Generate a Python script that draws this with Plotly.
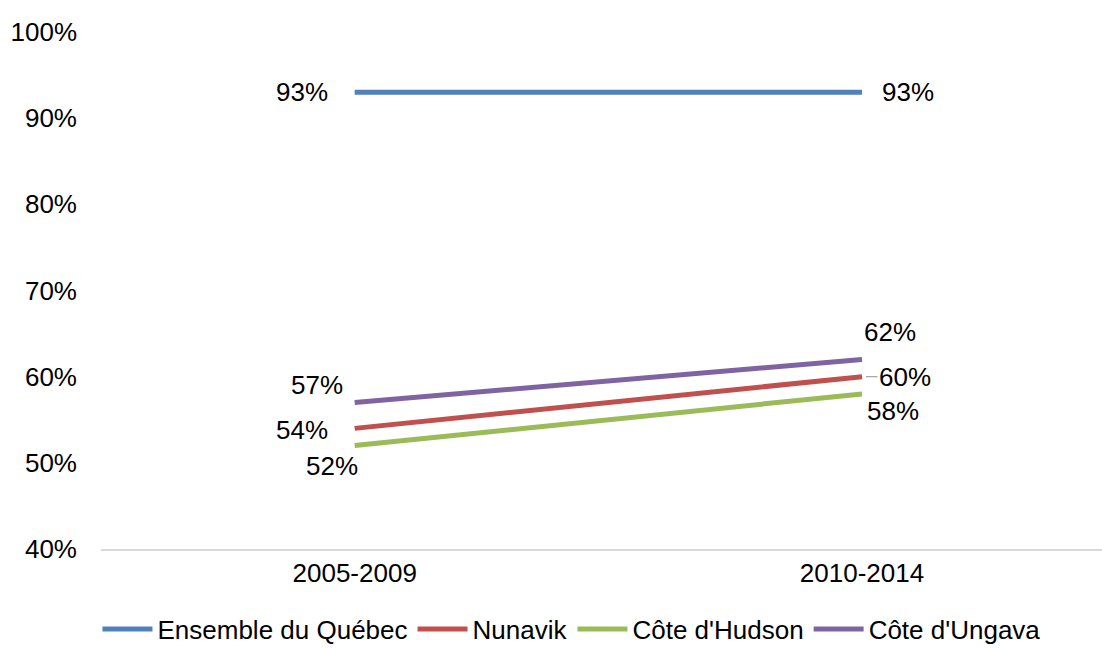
import plotly.graph_objects as go

categories = ["2005-2009", "2010-2014"]
series_names = ["Ensemble du Québec", "Nunavik", "Côte d'Hudson", "Côte d'Ungava"]
quebec = [93, 93]
nunavik = [54, 60]
hudson = [52, 58]
ungava = [57, 62]
colors = ["#4F81BD", "#C0504D", "#9BBB59", "#8064A2"]
y_ticks = [40, 50, 60, 70, 80, 90, 100]

all_values = [quebec, nunavik, hudson, ungava]

FS = 26
font = dict(family="Liberation Sans, Arial, sans-serif", size=FS, color="#000000")

fig = go.Figure()
for name, vals, col in zip(series_names, all_values, colors):
    fig.add_trace(go.Scatter(x=[0, 1], y=vals, mode="lines", name=name,
                             line=dict(color=col, width=5)))

# label placement per series, per point: (xanchor, xshift, yshift)
placements = {
    0: [("right", -25, 0), ("left", 18, 0)],
    1: [("right", -25, -2), None],
    2: [("center", -23, -20), ("center", 31, -17)],
    3: [("center", -38, 18), ("center", 28, 27)],
}
for si, vals in enumerate(all_values):
    for pi, v in enumerate(vals):
        p = placements[si][pi]
        if p is None:
            continue
        xa, xs, ys = p
        fig.add_annotation(x=pi, y=v, text=f"{v}%", showarrow=False,
                           xanchor=xa, yanchor="middle", xshift=xs, yshift=ys, font=font)

# Nunavik right label with leader line
fig.add_annotation(x=1, y=nunavik[1], text=f"{nunavik[1]}%", showarrow=True,
                   arrowhead=0, arrowwidth=1.2, arrowcolor="#A6A6A6",
                   ax=43, ay=0, standoff=4, font=font)

fig.update_layout(
    width=1102, height=649,
    margin=dict(l=101, r=0, t=32, b=100, autoexpand=False),
    paper_bgcolor="white", plot_bgcolor="white",
    font=font,
    showlegend=True,
    legend=dict(orientation="h", x=0.47, xanchor="center", y=-0.155, yanchor="middle",
                font=font, itemwidth=50, tracegroupgap=0),
    xaxis=dict(range=[-0.5, 1.473], tickvals=[0, 1], ticktext=categories,
               showgrid=False, zeroline=False, showline=True, linecolor="#D9D9D9",
               linewidth=1.5, ticks="", tickfont=font, fixedrange=True),
    yaxis=dict(range=[40, 100], tickvals=y_ticks, ticktext=[f"{t}%" for t in y_ticks],
               showgrid=False, zeroline=False, showline=False, ticks="",
               tickfont=font, ticklabelstandoff=23, fixedrange=True),
)

fig.write_html("out.html", config={"displayModeBar": False},
               post_script="document.body.style.margin='0';document.body.style.overflow='hidden';")
